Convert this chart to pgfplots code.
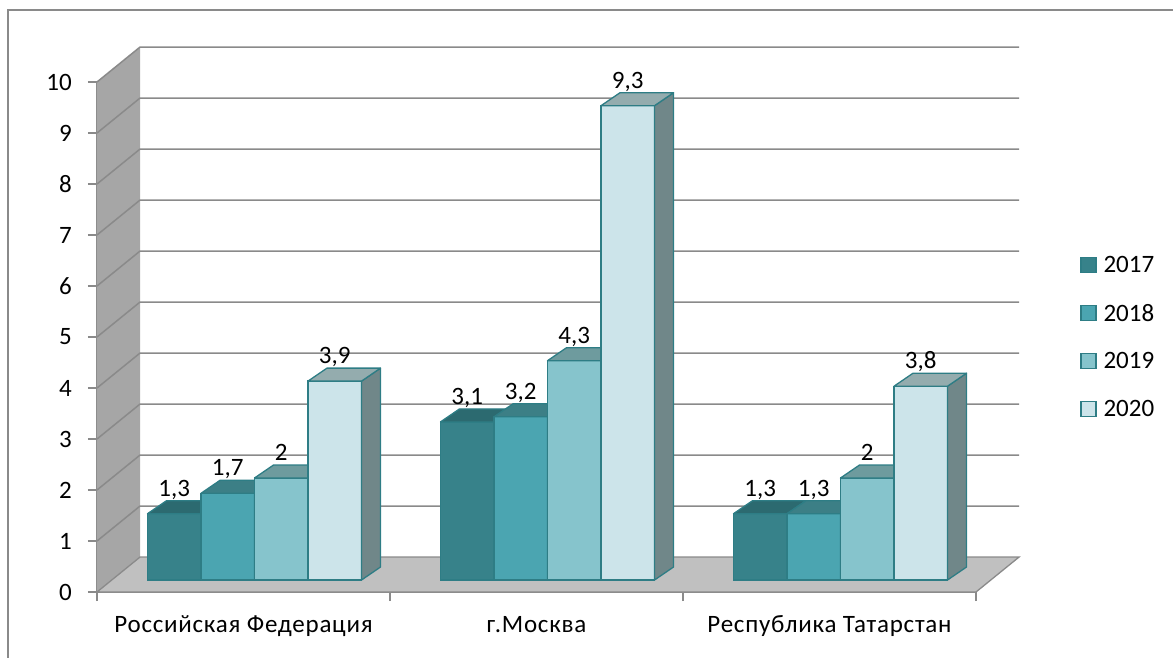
\documentclass[border=0pt]{standalone}
\usepackage{fontspec}
\setmainfont{Carlito}
\usepackage{pgfplots}
\usepackage{pgfplotstable}
\pgfplotsset{compat=1.18}
\definecolor{c17}{HTML}{37828A}
\definecolor{c18}{HTML}{4BA5B1}
\definecolor{c19}{HTML}{86C4CC}
\definecolor{c20}{HTML}{CCE4EA}
\definecolor{t17}{HTML}{2C6A70}
\definecolor{t18}{HTML}{3C7F86}
\definecolor{t19}{HTML}{6E9B9E}
\definecolor{t20}{HTML}{94ACAE}
\definecolor{s17}{HTML}{255A5F}
\definecolor{s18}{HTML}{336C72}
\definecolor{s19}{HTML}{5E8486}
\definecolor{s20}{HTML}{708789}
\definecolor{edgecol}{HTML}{2E7D85}
\definecolor{gridcol}{HTML}{8A8A8A}
\definecolor{wallcol}{HTML}{A6A6A6}
\definecolor{floorcol}{HTML}{C0C0C0}
\pgfdeclareplotmark{none3d}{}
\newcommand\lblfont{\fontsize{25}{30}\selectfont}
\newcommand\catfont{\fontsize{25}{30}\selectfont\addfontfeature{LetterSpace=3}}
\pgfplotsset{
  cube/.style n args={4}{
    scatter, only marks, mark=none3d, forget plot,
    visualization depends on={rawy \as \barv},
    scatter/@pre marker code/.code={%
      \pgfmathsetmacro\hh{\barv*51}%
      \pgfmathsetmacro\xl{#1-26.75}%
      \pgfmathsetmacro\xr{#1+26.75}%
      \filldraw[fill=#4,draw=edgecol,line width=1.3pt,line join=round] (\xl pt,-\hh pt) rectangle (\xr pt,0pt);
      \filldraw[fill=#3,draw=edgecol,line width=1.3pt,line join=round] (\xr pt,0pt) -- ++(19pt,13pt) -- ++(0pt,-\hh pt) -- ++(-19pt,-13pt) -- cycle;
      \filldraw[fill=#2,draw=edgecol,line width=1.3pt,line join=round] (\xl pt,0pt) -- ++(19pt,13pt) -- ++(53.5pt,0pt) -- ++(-19pt,-13pt) -- cycle;
    },
    scatter/@post marker code/.code={},
  },
  front/.style n args={2}{
    ybar, bar width=53.5pt, bar shift=#1pt, fill=#2, draw=edgecol, line width=1.3pt,
    legend image code/.code={\draw[fill=#2,draw=edgecol,line width=1.3pt] (0pt,-7pt) rectangle (15pt,8pt);},
    nodes near coords,
    every node near coord/.append style={font=\lblfont, text=black, inner sep=0pt, text depth=0pt, anchor=south, xshift=#1pt, yshift=17pt},
  },
}
\pgfplotstableread{
x y17 y18 y19 y20
0 1.3 1.7 2 3.9
1 3.1 3.2 4.3 9.3
2 1.3 1.3 2 3.8
}\data
\begin{document}
\begin{tikzpicture}
\begin{axis}[
  at={(-146.5pt,-12pt)}, anchor=south west,
  x=293pt, y=51pt,
  xmin=-0.5, xmax=2.5, ymin=-0.235, ymax=9.765,
  clip=false,
  axis x line*=bottom, axis y line*=left,
  axis line style={gridcol, line width=1.3pt},
  tick style={gridcol, line width=1.3pt},
  tick align=outside, major tick length=9pt,
  ytick={-0.235,0.765,1.765,2.765,3.765,4.765,5.765,6.765,7.765,8.765,9.765},
  yticklabels={0,1,2,3,4,5,6,7,8,9,10},
  yticklabel style={anchor=east, inner sep=0pt, xshift=-16pt},
  xtick={-0.5,0.5,1.5,2.5},
  xticklabels={,,,},
  extra x ticks={0,1,2},
  extra x tick labels={Российская Федерация, г.Москва, Республика Татарстан},
  extra x tick style={major tick length=0pt, tick label style={anchor=base, yshift=-40pt, font=\catfont}},
  tick label style={font=\lblfont},
  /pgf/number format/assume math mode=true,
  /pgf/number format/use comma,
  legend style={at={(axis cs:2.855,6.39)}, anchor=north west, draw=none, fill=none,
    font=\lblfont, row sep=26pt, inner sep=0pt, cells={anchor=west},
    /tikz/every odd column/.append style={column sep=5pt}},
]
\fill[wallcol] (axis cs:-0.5,-0.235) -- (axis cs:-0.5,9.765) -- (axis cs:-0.353,10.451) -- (axis cs:-0.353,0.451) -- cycle;
\filldraw[fill=floorcol, draw=gridcol, line width=1.3pt] (axis cs:-0.5,-0.235) -- (axis cs:2.5,-0.235) -- (axis cs:2.647,0.451) -- (axis cs:-0.353,0.451) -- cycle;
\draw[gridcol, line width=1.5pt] (axis cs:-0.5,0.765) -- (axis cs:-0.353,1.451) -- (axis cs:2.647,1.451);
\draw[gridcol, line width=1.5pt] (axis cs:-0.5,1.765) -- (axis cs:-0.353,2.451) -- (axis cs:2.647,2.451);
\draw[gridcol, line width=1.5pt] (axis cs:-0.5,2.765) -- (axis cs:-0.353,3.451) -- (axis cs:2.647,3.451);
\draw[gridcol, line width=1.5pt] (axis cs:-0.5,3.765) -- (axis cs:-0.353,4.451) -- (axis cs:2.647,4.451);
\draw[gridcol, line width=1.5pt] (axis cs:-0.5,4.765) -- (axis cs:-0.353,5.451) -- (axis cs:2.647,5.451);
\draw[gridcol, line width=1.5pt] (axis cs:-0.5,5.765) -- (axis cs:-0.353,6.451) -- (axis cs:2.647,6.451);
\draw[gridcol, line width=1.5pt] (axis cs:-0.5,6.765) -- (axis cs:-0.353,7.451) -- (axis cs:2.647,7.451);
\draw[gridcol, line width=1.5pt] (axis cs:-0.5,7.765) -- (axis cs:-0.353,8.451) -- (axis cs:2.647,8.451);
\draw[gridcol, line width=1.5pt] (axis cs:-0.5,8.765) -- (axis cs:-0.353,9.451) -- (axis cs:2.647,9.451);
\draw[gridcol, line width=1.5pt] (axis cs:-0.5,9.765) -- (axis cs:-0.353,10.451) -- (axis cs:2.647,10.451);
\addplot[front={-69.25}{c17}] table[x=x,y=y17]{\data};
\addplot[cube={-69.25}{t17}{s17}{c17}] table[x=x,y=y17]{\data};
\addplot[front={-15.75}{c18}] table[x=x,y=y18]{\data};
\addplot[cube={-15.75}{t18}{s18}{c18}] table[x=x,y=y18]{\data};
\addplot[front={37.75}{c19}] table[x=x,y=y19]{\data};
\addplot[cube={37.75}{t19}{s19}{c19}] table[x=x,y=y19]{\data};
\addplot[front={91.25}{c20}] table[x=x,y=y20]{\data};
\addplot[cube={91.25}{t20}{s20}{c20}] table[x=x,y=y20]{\data};
\legend{2017,2018,2019,2020}
\end{axis}
\draw[gridcol, line width=1.5pt] (-235.5pt,-100pt) -- (-235.5pt,570pt) -- (1000pt,570pt);
\pgfresetboundingbox
\path (-243.5pt,-77pt) rectangle (929.5pt,580pt);
\end{tikzpicture}
\end{document}
